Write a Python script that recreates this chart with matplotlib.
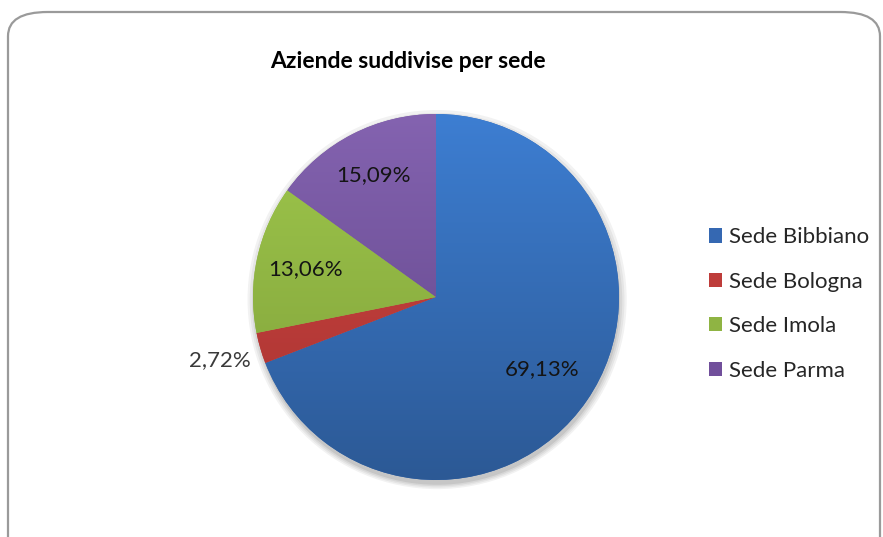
import matplotlib
matplotlib.use("Agg")
import matplotlib.pyplot as plt
import numpy as np
from matplotlib.patches import FancyBboxPatch, Circle, Patch
from matplotlib.colors import LinearSegmentedColormap

# data
sedi = ['Sede Bibbiano', 'Sede Bologna', 'Sede Imola', 'Sede Parma']
percentuali = [69.13, 2.72, 13.06, 15.09]

# colours (top / bottom of Excel-like gradient)
col_top = ['#3D7ED2', '#D24541', '#9FC84C', '#8463B0']
col_bot = ['#2C5995', '#A53331', '#7E9E39', '#5E4386']
col_mid = ['#3568B2', '#BE3C3A', '#8FB443', '#714F9B']
label_dist = [0.70, 1.23, 0.73, 0.75]

W, H = 883, 537
fig = plt.figure(figsize=(W / 100, H / 100), dpi=100)
plt.rcParams['font.family'] = ['Lato', 'DejaVu Sans']

# rounded frame of the chart area
frame = FancyBboxPatch((8 / W, -30 / H), 872 / W, (H - 12 + 30) / H,
                       boxstyle="round,pad=0,rounding_size=0.045",
                       transform=fig.transFigure, facecolor='white',
                       edgecolor='#9A9A9A', linewidth=1.6, zorder=-5)
fig.patches.append(frame)

cx, cy, r = 436, H - 297, 183
ax = fig.add_axes([(cx - r) / W, (cy - r) / H, 2 * r / W, 2 * r / H])
ax.set_zorder(2)
ax.patch.set_visible(False)

wedges, _ = ax.pie(percentuali, startangle=90, counterclock=False,
                   colors=col_mid, radius=1.0)
ax.set_aspect('equal')
ax.axis('off')

# soft shadow under the pie
for k, a in enumerate([0.05, 0.05, 0.06, 0.08]):
    sh = Circle((0.006, -0.014 - 0.004 * k), 1.0 + 0.012 * (3 - k),
                facecolor='black', edgecolor='none', alpha=a, zorder=0.5,
                clip_on=False)
    ax.add_patch(sh)

# vertical gradient inside each slice
grad = np.linspace(0, 1, 256).reshape(-1, 1)
for w, ct, cb in zip(wedges, col_top, col_bot):
    cmap = LinearSegmentedColormap.from_list('g', [ct, cb])
    im = ax.imshow(grad, cmap=cmap, extent=(-1, 1, -1, 1), origin='upper',
                   aspect='auto', zorder=2, interpolation='bilinear')
    im.set_clip_path(w)
    w.set_zorder(1)
ax.set_xlim(-1.0, 1.0)
ax.set_ylim(-1.0, 1.0)

# data labels
for w, p, d in zip(wedges, percentuali, label_dist):
    ang = np.deg2rad((w.theta1 + w.theta2) / 2)
    x, y = d * np.cos(ang), d * np.sin(ang)
    ax.text(x, y, f"{p:.2f}%".replace('.', ','), ha='center', va='center',
            fontsize=16, color='#141414' if d < 1 else '#3A3A3A', zorder=5,
            clip_on=False)

fig.text(408 / W, 1 - 62 / H, 'Aziende suddivise per sede', ha='center',
         va='center', fontsize=16.5, fontweight='bold', color='black')

handles = [Patch(facecolor=c, edgecolor='none') for c in col_mid]
fig.legend(handles, sedi, loc='center left', bbox_to_anchor=(709 / W, 1 - 304 / H),
           frameon=False, fontsize=16, labelspacing=1.1, handlelength=0.6,
           handleheight=0.6, handletextpad=0.3, borderpad=0, borderaxespad=0,
           labelcolor='#262626')

fig.savefig('out.png', dpi=100)
